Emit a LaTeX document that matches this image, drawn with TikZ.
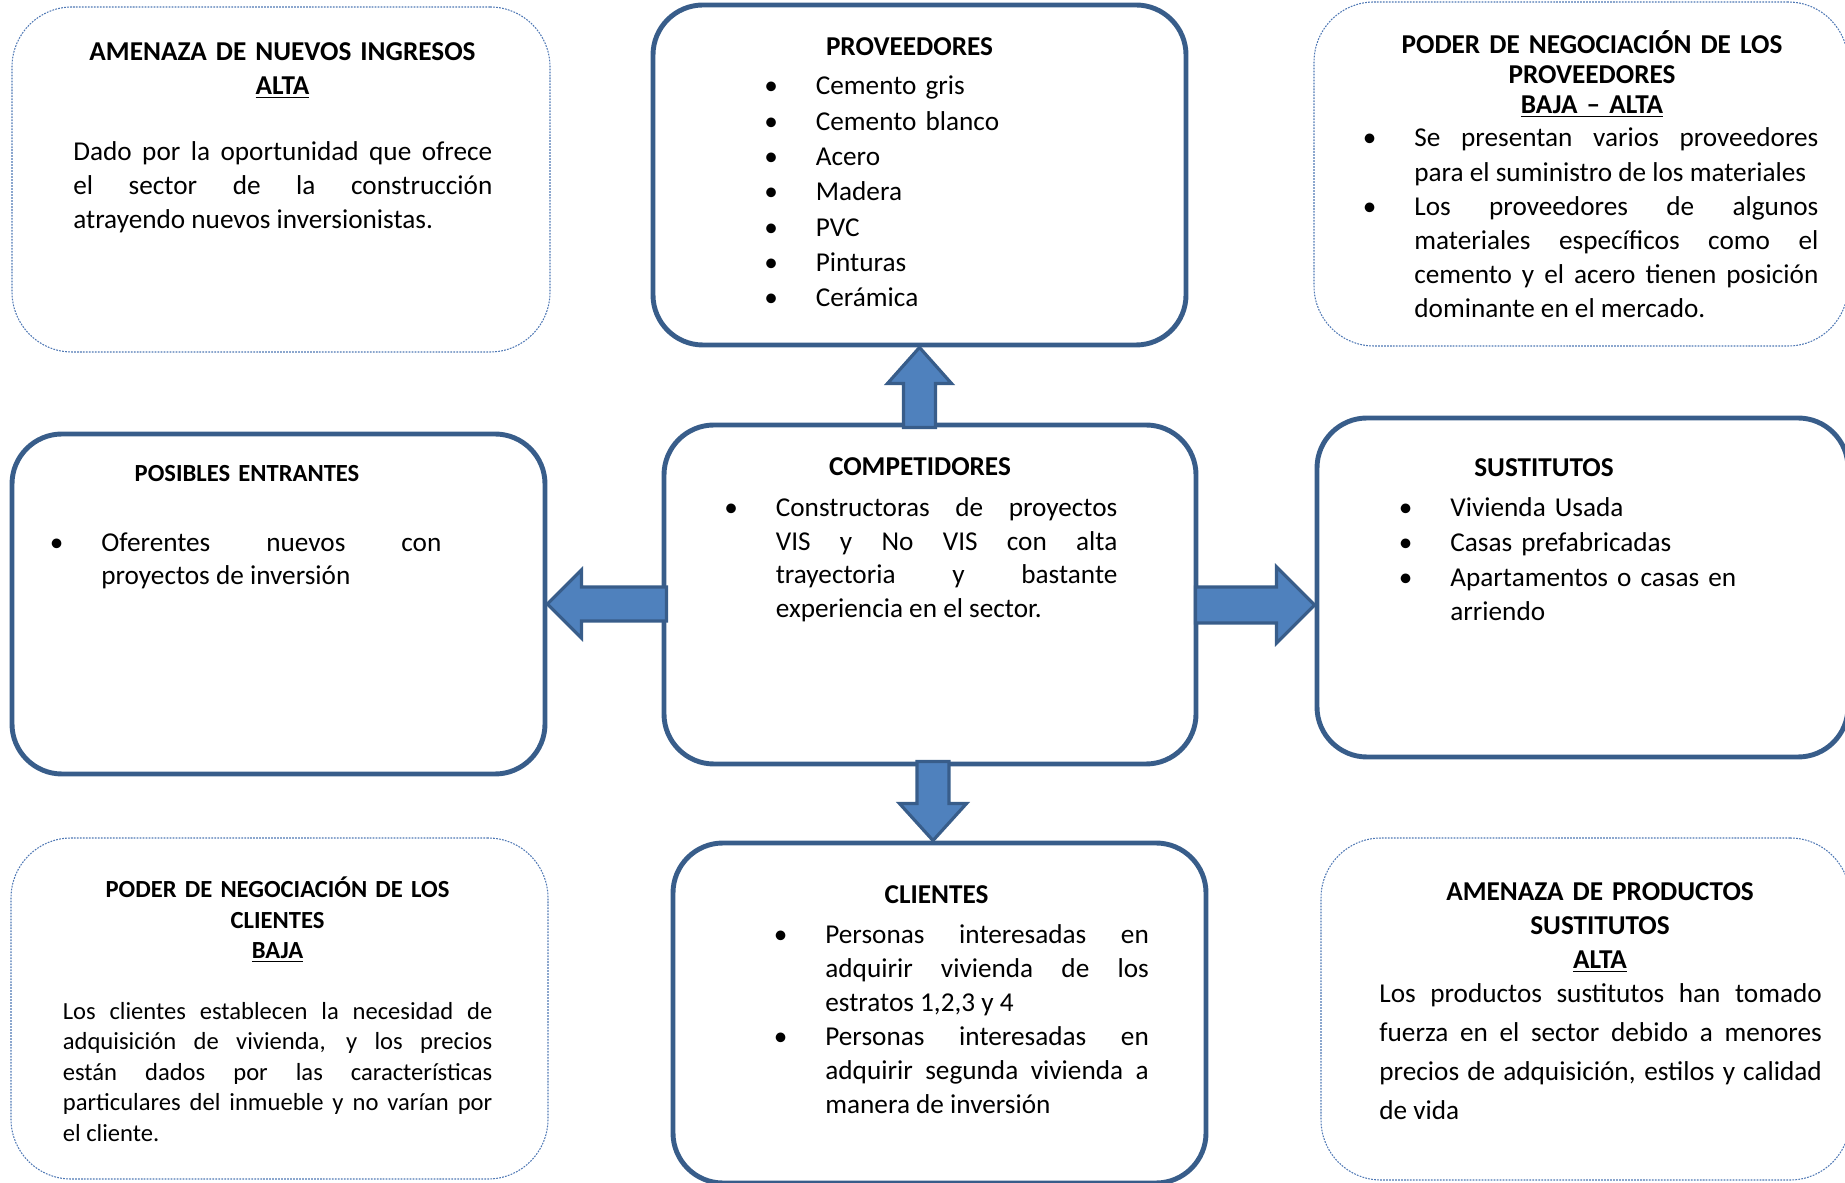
\documentclass[tikz,border=0pt]{standalone}
\usepackage{fontspec}
\setmainfont{Carlito}
\usetikzlibrary{positioning,calc}
\definecolor{boxblue}{RGB}{56,93,138}
\definecolor{arrowblue}{RGB}{79,129,189}
\definecolor{dotblue}{RGB}{79,120,180}
\newcommand{\bul}{\leavevmode\llap{\textbullet\hspace{0.76cm}}}
\hyphenpenalty=10000
\tolerance=10000
\hbadness=10000

\begin{document}
\begin{tikzpicture}[
  fuerza/.style={draw=boxblue, line width=2.8pt, rounded corners=1cm},
  nivel/.style={draw=dotblue, line width=0.6pt, dash pattern=on 1pt off 0.7pt, rounded corners=1.2cm},
  flecha/.style={draw=boxblue, fill=arrowblue, line width=1.8pt},
  titulo/.style={anchor=base, align=center, inner sep=0pt, text width=10cm, font=\bfseries\fontsize{15.5}{19.4}\selectfont},
  cuerpo/.style={anchor=base west, align=justify, inner sep=0pt}
]
\useasboundingbox (0,0) rectangle (36.9,23.64);

% cajas
\node[nivel, minimum width=10.76cm, minimum height=6.9cm] (nuevos) at (5.62,20.05) {};
\node[fuerza, minimum width=10.66cm, minimum height=6.8cm] (prov) at (18.39,20.14) {};
\node[nivel, minimum width=10.68cm, minimum height=6.88cm] (podprov) at (31.62,20.16) {};
\node[fuerza, minimum width=10.66cm, minimum height=6.8cm] (entrantes) at (5.57,11.56) {};
\node[fuerza, minimum width=10.64cm, minimum height=6.78cm] (comp) at (18.6,11.75) {};
\node[fuerza, minimum width=10.62cm, minimum height=6.78cm] (sust) at (31.65,11.89) {};
\node[nivel, minimum width=10.74cm, minimum height=6.82cm] (podcli) at (5.59,3.47) {};
\node[fuerza, minimum width=10.66cm, minimum height=6.8cm] (cli) at (18.79,3.38) {};
\node[nivel, minimum width=10.58cm, minimum height=6.84cm] (podsust) at (31.71,3.46) {};

% flechas
\draw[flecha] (prov.south) -- ++(0.64,-0.72) -- ++(-0.32,0) -- ++(0,-0.88) -- ++(-0.64,0) -- ++(0,0.88) -- ++(-0.32,0) -- cycle;
\draw[flecha] (entrantes.east) -- ++(0.68,0.68) -- ++(0,-0.34) -- ++(1.70,0) -- ++(0,-0.68) -- ++(-1.70,0) -- ++(0,-0.34) -- cycle;
\draw[flecha] ($(sust.west)+(0,-0.35)$) -- ++(-0.76,0.76) -- ++(0,-0.4) -- ++(-1.62,0) -- ++(0,-0.72) -- ++(1.62,0) -- ++(0,-0.4) -- cycle;
\draw[flecha] ($(cli.north)+(-0.13,0)$) -- ++(0.67,0.74) -- ++(-0.35,0) -- ++(0,0.84) -- ++(-0.64,0) -- ++(0,-0.84) -- ++(-0.35,0) -- cycle;

% textos
\node[titulo] (nuevostit) at (5.65,22.43) {AMENAZA DE NUEVOS INGRESOS\\\underline{ALTA}};
\node[cuerpo, text width=8.38cm, font=\fontsize{15.5}{19.1}\selectfont] (nuevostxt) at (1.46,20.42) {Dado por la oportunidad que ofrece\linebreak el sector de la construcción\linebreak atrayendo nuevos inversionistas.};

\node[titulo] (provtit) at (18.19,22.52) {PROVEEDORES};
\node[cuerpo, align=left, text width=6cm, font=\fontsize{15.5}{20.1}\selectfont] (provtxt) at (16.31,21.74) {\bul Cemento gris\par\bul Cemento blanco\par\bul Acero\par\bul Madera\par\bul PVC\par\bul Pinturas\par\bul Cerámica};

\node[titulo, font=\bfseries\fontsize{15.5}{17.1}\selectfont] (podprovtit) at (31.84,22.57) {PODER DE NEGOCIACIÓN DE LOS\\PROVEEDORES\\\underline{BAJA -- ALTA}};
\node[cuerpo, text width=8.08cm, font=\fontsize{15.5}{19.4}\selectfont] (podprovtxt) at (28.28,20.70) {\bul Se presentan varios proveedores\linebreak para el suministro de los materiales\par\bul Los proveedores de algunos\linebreak materiales específicos como el\linebreak cemento y el acero tienen posición\linebreak dominante en el mercado.};

\node[titulo, font=\bfseries\fontsize{14}{17}\selectfont] (entrantit) at (4.94,14.0) {POSIBLES ENTRANTES};
\node[cuerpo, text width=6.8cm, font=\fontsize{15.5}{18.8}\selectfont] (entrantxt) at (2.02,12.61) {\bul Oferentes nuevos con\linebreak proyectos de inversión};

\node[titulo] (comptit) at (18.4,14.12) {COMPETIDORES};
\node[cuerpo, text width=6.83cm, font=\fontsize{15.5}{19.2}\selectfont] (comptxt) at (15.51,13.31) {\bul Constructoras de proyectos\linebreak VIS y No VIS con alta\linebreak trayectoria y bastante\linebreak experiencia en el sector.};

\node[titulo] (susttit) at (30.88,14.1) {SUSTITUTOS};
\node[cuerpo, align=left, text width=6.5cm, font=\fontsize{15.5}{19.8}\selectfont] (susttxt) at (29.0,13.31) {\bul Vivienda Usada\par\bul Casas prefabricadas\par\bul Apartamentos o casas en\\arriendo};

\node[titulo, font=\bfseries\fontsize{14}{17.4}\selectfont] (podclitit) at (5.55,5.69) {PODER DE NEGOCIACIÓN DE LOS\\CLIENTES\\\underline{BAJA}};
\node[cuerpo, text width=8.59cm, font=\fontsize{14}{17.4}\selectfont] (podclitxt) at (1.25,3.26) {Los clientes establecen la necesidad de\linebreak adquisición de vivienda, y los precios\linebreak están dados por las características\linebreak particulares del inmueble y no varían por\linebreak el cliente.};

\node[titulo] (clitit) at (18.73,5.58) {CLIENTES};
\node[cuerpo, text width=6.47cm, font=\fontsize{15.5}{19.4}\selectfont] (clitxt) at (16.5,4.77) {\bul Personas interesadas en\linebreak adquirir vivienda de los\linebreak estratos 1,2,3 y 4\par\bul Personas interesadas en\linebreak adquirir segunda vivienda a\linebreak manera de inversión};

\node[titulo] (podsusttit) at (32.0,5.63) {AMENAZA DE PRODUCTOS\\SUSTITUTOS\\\underline{ALTA}};
\node[cuerpo, text width=8.85cm, font=\fontsize{15.5}{22.1}\selectfont] (podsusttxt) at (27.58,3.59) {Los productos sustitutos han tomado\linebreak fuerza en el sector debido a menores\linebreak precios de adquisición, estilos y calidad\linebreak de vida};
\end{tikzpicture}
\end{document}
